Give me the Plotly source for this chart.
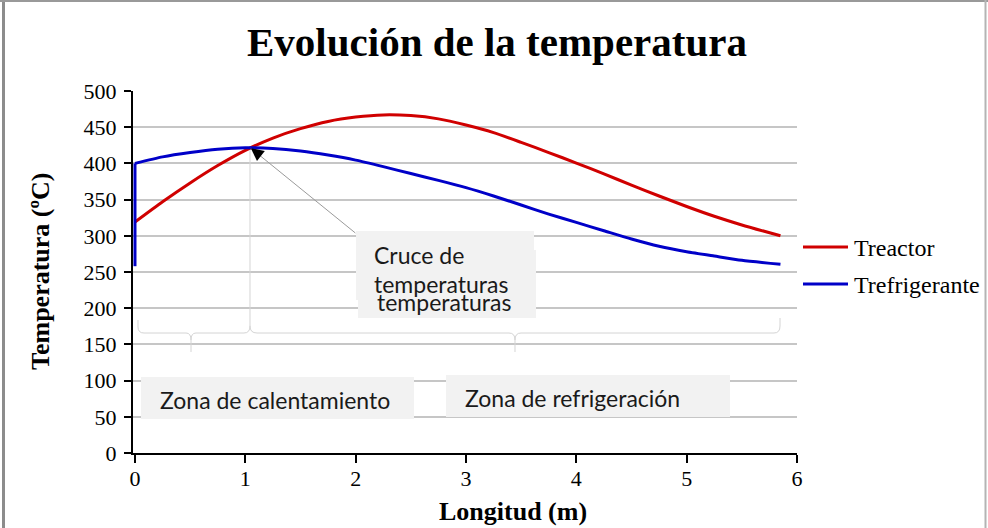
import plotly.graph_objects as go

# Temperature profiles along the reactor tube
longitud_reactor = [0, 0.25, 0.5, 0.75, 1.0, 1.25, 1.5, 1.75, 2.0, 2.25, 2.5, 2.75,
                    3.0, 3.25, 3.5, 3.75, 4.0, 4.25, 4.5, 4.75, 5.0, 5.25, 5.5, 5.85]
t_reactor = [319, 347, 373, 397, 418, 435, 448, 458, 464, 467, 466, 461.5,
             453, 442.5, 429, 415, 400.5, 385.5, 370, 355, 340.5, 327, 315, 300]

longitud_refrig = [0, 0, 0.25, 0.5, 0.75, 1.0, 1.25, 1.5, 1.75, 2.0, 2.25, 2.5, 2.75,
                   3.0, 3.25, 3.5, 3.75, 4.0, 4.25, 4.5, 4.75, 5.0, 5.25, 5.5, 5.85]
t_refrigerante = [258, 400, 409, 415, 419.5, 421.5, 420.5, 417, 411.5, 404.5, 395.5, 386, 376.5,
                  366.5, 355, 342.5, 330, 318.5, 307, 295.5, 285.5, 278, 272, 266.2, 260.6]

series_names = ["Treactor", "Trefrigerante"]
series_colors = ["#d00000", "#0000c8"]

x_ticks = [0, 1, 2, 3, 4, 5, 6]
y_ticks = [0, 50, 100, 150, 200, 250, 300, 350, 400, 450, 500]

cruce_x, cruce_y = 1.05, 421

SERIF = "Times New Roman, Liberation Serif, serif"
SANS = "Lato, Open Sans, sans-serif"

W, H = 988, 528
L, R, T, B = 133, 797, 91, 453
X_MIN = -0.018  # lets the coolant inlet segment at x = 0 sit over the axis line


def px(x):
    return (x - L) / (R - L)


def py(y):
    return (B - y) / (B - T)


fig = go.Figure()
fig.add_trace(go.Scatter(x=longitud_reactor, y=t_reactor, mode="lines",
                         name=series_names[0], showlegend=False,
                         line=dict(color=series_colors[0], width=3, shape="spline", smoothing=0.6)))
fig.add_trace(go.Scatter(x=longitud_refrig[:2], y=t_refrigerante[:2], mode="lines",
                         name=series_names[1], showlegend=False,
                         line=dict(color=series_colors[1], width=3)))
fig.add_trace(go.Scatter(x=longitud_refrig[1:], y=t_refrigerante[1:], mode="lines",
                         name=series_names[1], showlegend=False,
                         line=dict(color=series_colors[1], width=3, shape="spline", smoothing=0.6)))

shapes = []
# outer frame
shapes.append(dict(type="line", xref="paper", yref="paper", x0=px(3.5), x1=px(3.5), y0=py(0), y1=py(H),
                   line=dict(color="#8c8c8c", width=3)))
shapes.append(dict(type="line", xref="paper", yref="paper", x0=px(0), x1=px(W), y0=py(1), y1=py(1),
                   line=dict(color="#999999", width=2)))
shapes.append(dict(type="line", xref="paper", yref="paper", x0=px(985.5), x1=px(985.5), y0=py(0), y1=py(H),
                   line=dict(color="#b4b4b4", width=2)))


def path(points):
    segs = []
    for cmd, pts in points:
        coords = " ".join(f"{px(a):.5f},{py(b):.5f}" for a, b in pts)
        segs.append(f"{cmd}{coords}")
    return " ".join(segs)


brace_col = "#d4d4d4"
# leader from the crossing down to the zone braces
shapes.append(dict(type="path", xref="paper", yref="paper", line=dict(color=brace_col, width=1),
                   path=path([("M", [(250, 150)]), ("L", [(250, 326)]),
                              ("Q", [(250, 333), (257, 333)]), ("L", [(509, 333)]),
                              ("Q", [(515, 333), (515, 340)]), ("L", [(515, 352)]),
                              ("M", [(515, 340)]), ("Q", [(515, 333), (521, 333)]),
                              ("L", [(774, 333)]), ("Q", [(780, 333), (780, 326)]),
                              ("L", [(780, 318)])])))
shapes.append(dict(type="path", xref="paper", yref="paper", line=dict(color=brace_col, width=1),
                   path=path([("M", [(138, 320)]), ("L", [(138, 327)]),
                              ("Q", [(138, 333), (144, 333)]), ("L", [(186, 333)]),
                              ("Q", [(191, 333), (191, 340)]), ("L", [(191, 352)]),
                              ("M", [(191, 340)]), ("Q", [(191, 333), (196, 333)]),
                              ("L", [(244, 333)]), ("Q", [(250, 333), (250, 326)])])))

box_col = "#f2f2f2"
for (x0, y0, x1, y1) in [(356, 231, 534, 300), (358, 250, 536, 318),
                         (141, 377, 414, 419), (446, 375, 730, 417)]:
    shapes.append(dict(type="rect", xref="paper", yref="paper", x0=px(x0), x1=px(x1),
                       y0=py(y1), y1=py(y0), fillcolor=box_col, line=dict(width=0), layer="above"))

# legend samples
for i, yy in enumerate([247, 284]):
    shapes.append(dict(type="line", xref="paper", yref="paper", x0=px(803), x1=px(848),
                       y0=py(yy), y1=py(yy), line=dict(color=series_colors[i], width=3)))

annotations = []
annotations.append(dict(text="<b>Evolución de la temperatura</b>", xref="paper", yref="paper",
                        x=px(496.5), y=py(42), xanchor="center", yanchor="middle", showarrow=False,
                        font=dict(family=SERIF, size=41, color="black")))
annotations.append(dict(text="<b>Longitud (m)</b>", xref="paper", yref="paper",
                        x=px(513), y=py(511), xanchor="center", yanchor="middle", showarrow=False,
                        font=dict(family=SERIF, size=26, color="black")))
annotations.append(dict(text="<b>Temperatura (ºC)</b>", xref="paper", yref="paper",
                        x=px(40), y=py(271), xanchor="center", yanchor="middle", showarrow=False,
                        textangle=-90, font=dict(family=SERIF, size=26, color="black")))
for i, yy in enumerate([248, 285]):
    annotations.append(dict(text=series_names[i], xref="paper", yref="paper", x=px(852), y=py(yy),
                            xanchor="left", yanchor="middle", showarrow=False,
                            font=dict(family=SERIF, size=24, color="black")))

for txt, x0, yc in [("Cruce de", 372, 255), ("temperaturas", 372, 284), ("temperaturas", 375, 302),
                    ("Zona de calentamiento", 158, 400), ("Zona de refrigeración", 463, 398)]:
    annotations.append(dict(text=txt, xref="paper", yref="paper", x=px(x0), y=py(yc),
                            xanchor="left", yanchor="middle", showarrow=False,
                            font=dict(family=SANS, size=23, color="#1a1a1a")))

# pointer to the crossing of both curves
annotations.append(dict(text="", x=cruce_x, y=cruce_y, xref="x", yref="y", showarrow=True,
                        arrowhead=0, arrowwidth=1, arrowcolor="#9a9a9a", ax=106, ay=86, standoff=0))
annotations.append(dict(text="", x=cruce_x, y=cruce_y, xref="x", yref="y", showarrow=True,
                        arrowhead=2, arrowsize=1.7, arrowwidth=1.5, arrowcolor="black",
                        ax=9, ay=7, standoff=0))

fig.update_layout(
    width=W, height=H,
    margin=dict(l=L, r=W - R, t=T, b=H - B),
    paper_bgcolor="white", plot_bgcolor="white",
    shapes=shapes, annotations=annotations,
    showlegend=False,
    xaxis=dict(range=[X_MIN, 6], tickvals=x_ticks, ticktext=[str(v) for v in x_ticks],
               showgrid=False, zeroline=False, showline=True, linecolor="black", linewidth=2,
               ticks="outside", ticklen=8, tickwidth=2, tickcolor="black",
               tickfont=dict(family=SERIF, size=22, color="black"), ticklabelstandoff=-3,
               layer="below traces", fixedrange=True),
    yaxis=dict(range=[0, 500], tickvals=y_ticks, ticktext=[str(v) for v in y_ticks],
               showgrid=True, gridcolor="#c6c6c6", gridwidth=2, zeroline=False,
               showline=True, linecolor="black", linewidth=2,
               ticks="outside", ticklen=7, tickwidth=2, tickcolor="black",
               tickfont=dict(family=SERIF, size=22, color="black"), ticklabelstandoff=3,
               layer="below traces", fixedrange=True),
)

fig.write_html("out.html")
